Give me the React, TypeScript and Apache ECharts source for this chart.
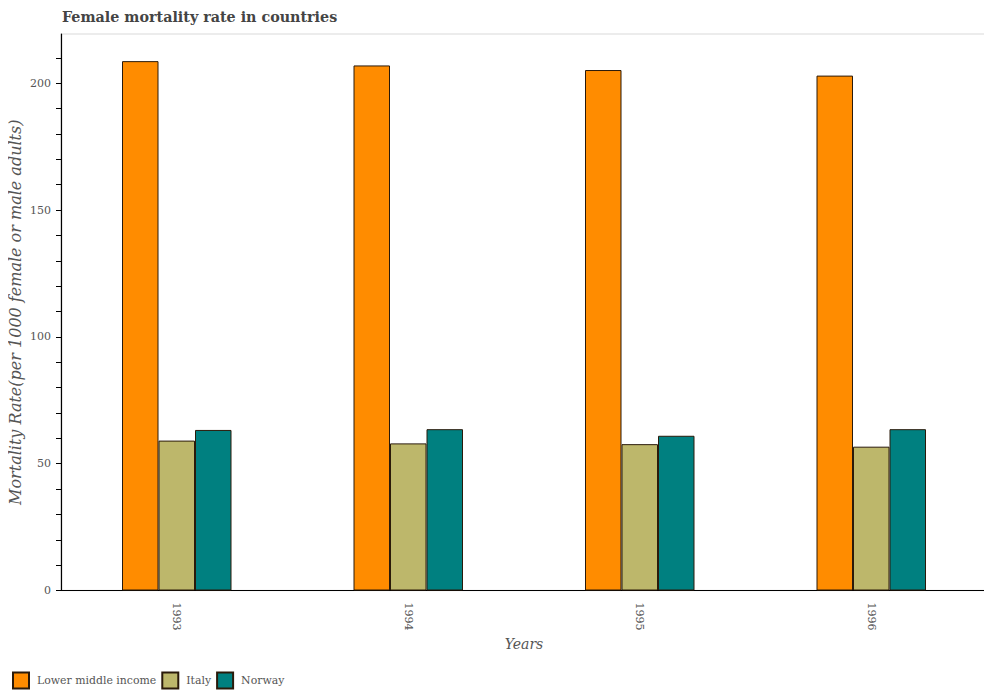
import React, { useEffect, useRef } from "react";
import * as echarts from "echarts";

const years = ["1993", "1994", "1995", "1996"];
const lowerMiddleIncome = [208.7, 207.0, 205.2, 203.0];
const italy = [59.1, 58.0, 57.7, 56.7];
const norway = [63.3, 63.6, 61.0, 63.6];
const yLabelValues = [0, 50, 100, 150, 200];
const yTickValues = [0, 10, 20, 30, 40, 50, 60, 70, 80, 90, 100, 110, 120, 130, 140, 150, 160, 170, 180, 190, 200, 210];

const FONT = "DejaVu Serif";

export default function App() {
  const ref = useRef<HTMLDivElement>(null);
  useEffect(() => {
    if (!ref.current) return;
    const chart = echarts.init(ref.current, undefined, { renderer: "svg" });
    const barStyle = (color: string) => ({
      color,
      borderColor: "#2a1a0a",
      borderWidth: 1,
    });
    chart.setOption({
      animation: false,
      backgroundColor: "#ffffff",
      title: {
        text: "Female mortality rate in countries",
        left: 62,
        top: 10,
        padding: 0,
        textStyle: { fontFamily: FONT, fontWeight: "bold", fontSize: 14.3, color: "#444" },
      },
      grid: {
        left: 61,
        right: 5,
        top: 34,
        bottom: 109.5,
        show: true,
        borderColor: "#e6e6e6",
        borderWidth: 1.5,
        outerBoundsMode: "none",
        containLabel: false,
      },
      legend: {
        left: 12,
        top: 671.5,
        padding: 0,
        itemWidth: 16,
        itemHeight: 16,
        itemGap: 5,
        icon: "rect",
        textStyle: { fontFamily: FONT, fontSize: 10.9, color: "#555", padding: [0, 0, 0, 3] },
        data: ["Lower middle income", "Italy", "Norway"],
      },
      xAxis: {
        type: "category",
        data: years,
        name: "Years",
        nameLocation: "middle",
        nameGap: 46,
        nameMoveOverlap: false,
        nameTextStyle: { fontFamily: FONT, fontStyle: "italic", fontSize: 14, color: "#555" },
        axisLine: { lineStyle: { color: "#000", width: 1.2 } },
        axisTick: { alignWithLabel: true, length: 5, lineStyle: { color: "#000" } },
        axisLabel: { rotate: -90, fontFamily: FONT, fontSize: 11, color: "#555", margin: 12 },
        splitLine: { show: false },
      },
      yAxis: {
        type: "value",
        min: 0,
        max: 219.4,
        name: "Mortality Rate(per 1000 female or male adults)",
        nameLocation: "middle",
        nameGap: 38,
        nameMoveOverlap: false,
        nameTextStyle: { fontFamily: FONT, fontStyle: "italic", fontSize: 16, color: "#555" },
        axisLine: { show: true, lineStyle: { color: "#000", width: 1.2 } },
        axisTick: { show: true, length: 5, customValues: yTickValues, lineStyle: { color: "#000" } },
        axisLabel: { customValues: yLabelValues, fontFamily: FONT, fontSize: 11, color: "#555", margin: 10 },
        splitLine: { show: false },
      },
      series: [
        { name: "Lower middle income", type: "bar", data: lowerMiddleIncome, barWidth: 36.5, barGap: "0%", itemStyle: barStyle("#FF8C00") },
        { name: "Italy", type: "bar", data: italy, barWidth: 36.5, barGap: "0%", itemStyle: barStyle("#BDB76B") },
        { name: "Norway", type: "bar", data: norway, barWidth: 36.5, barGap: "0%", itemStyle: barStyle("#008080") },
      ],
    });
    return () => chart.dispose();
  }, []);
  return <div ref={ref} style={{ width: 992, height: 700, margin: -8 }} />;
}
